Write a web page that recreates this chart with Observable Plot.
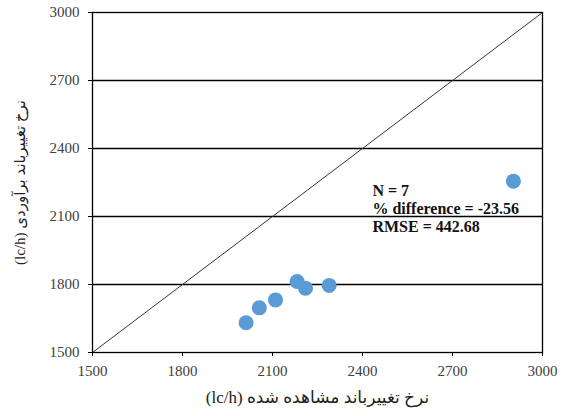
<!DOCTYPE html>
<html>
<head>
<meta charset="utf-8">
<script src="https://cdn.jsdelivr.net/npm/d3@7"></script>
<script src="https://cdn.jsdelivr.net/npm/@observablehq/plot@0.6"></script>
<style>
  html, body { margin: 0; padding: 0; background: #fff; }
  #chart svg { display: block; }
</style>
</head>
<body>
<div id="chart"></div>
<script>
// Data
const observed  = [2012, 2056, 2110, 2182, 2210, 2289, 2903];
const estimated = [1631, 1697, 1732, 1813, 1784, 1796, 2256];
const ticks = [1500, 1800, 2100, 2400, 2700, 3000];
const gridY = [1800, 2100, 2400, 2700];
const diagonal = [1500, 3000];
const statsLines = ["N = 7", "% difference = -23.56", "RMSE = 442.68"];
const statsPos = {x: 2433, y: 2250};
const xTitle = "(lc/h) نرخ تغییرباند مشاهده شده";
const yTitle = "(lc/h) نرخ تغییرباند برآوردی";

const points = observed.map((o, i) => ({observed: o, estimated: estimated[i]}));

const serif = "'Liberation Serif', 'Times New Roman', 'DejaVu Serif', serif";
const persianFont = "'Liberation Serif', 'DejaVu Sans', sans-serif";

const chart = Plot.plot({
  width: 564,
  height: 416,
  marginLeft: 92,
  marginRight: 22,
  marginTop: 12,
  marginBottom: 64,
  style: {fontFamily: serif, fontSize: "15px", color: "#404040", background: "#fff"},
  x: {domain: [1500, 3000]},
  y: {domain: [1500, 3000]},
  marks: [
    Plot.ruleY(gridY, {stroke: "#000", strokeWidth: 1.3}),
    Plot.line(diagonal, {x: d => d, y: d => d, stroke: "#333", strokeWidth: 1}),
    Plot.frame({stroke: "#000", strokeWidth: 1.3}),
    Plot.axisX({ticks, tickSize: 4, tickPadding: 9, label: null, stroke: "#000", tickFormat: d => String(d)}),
    Plot.axisY({ticks, tickSize: 4, tickPadding: 9, label: null, stroke: "#000", tickFormat: d => String(d)}),
    Plot.dot(points, {x: "observed", y: "estimated", r: 7.5, fill: "#5B9BD5", stroke: "none"}),
    Plot.text([statsLines.join("\n")], {
      x: () => statsPos.x, y: () => statsPos.y,
      textAnchor: "start", lineAnchor: "top", lineHeight: 1.15,
      fontWeight: "bold", fontSize: 16, fill: "#111", fontFamily: serif
    }),
    Plot.text([xTitle], {
      frameAnchor: "bottom", dy: 45, lineAnchor: "middle", textAnchor: "middle",
      fontSize: 17, fill: "#222", fontFamily: persianFont
    }),
    Plot.text([yTitle], {
      frameAnchor: "left", dx: -72, rotate: -90, lineAnchor: "middle", textAnchor: "middle",
      fontSize: 15, fill: "#222", fontFamily: persianFont
    })
  ]
});
document.getElementById("chart").appendChild(chart);
</script>
</body>
</html>
